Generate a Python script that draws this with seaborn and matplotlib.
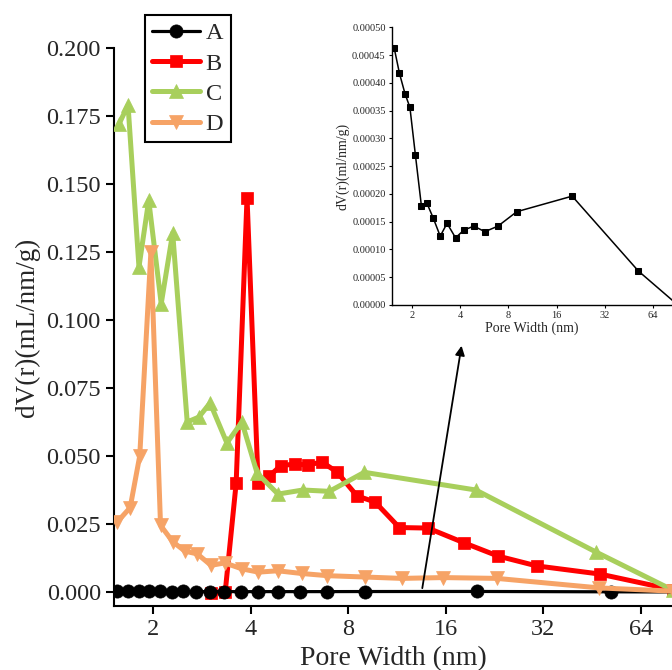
import numpy as np
import pandas as pd
import matplotlib
matplotlib.use("Agg")
import matplotlib.pyplot as plt
from matplotlib.ticker import NullLocator, FixedLocator, FixedFormatter, FormatStrFormatter
import seaborn as sns

# ---------------- data ----------------
a_x = [1.55, 1.67, 1.81, 1.94, 2.10, 2.29, 2.48, 2.71, 3.00, 3.31, 3.74, 4.22, 4.87, 5.70, 6.88, 9.02, 20.0, 51.8, 88.0]
a_y = [0.000462, 0.000417, 0.000380, 0.000356, 0.000270, 0.000178, 0.000183, 0.000157, 0.000124,
       0.000147, 0.000121, 0.000135, 0.000142, 0.000132, 0.000142, 0.000168, 0.000196, 0.0000612, 0.000004]

b_x = [3.02, 3.34, 3.61, 3.90, 4.22, 4.56, 4.96, 5.48, 6.02, 6.64, 7.39, 8.52, 9.68, 11.5, 14.1, 18.2, 23.2, 30.5, 47.8, 80.5]
b_y = [-0.0005, 0.0, 0.040, 0.145, 0.040, 0.0425, 0.0465, 0.047, 0.0467, 0.0478, 0.0441, 0.0353,
       0.0331, 0.0237, 0.0235, 0.0181, 0.0132, 0.0096, 0.0066, 0.0008]

c_x = [1.57, 1.675, 1.81, 1.94, 2.12, 2.30, 2.55, 2.77, 3.00, 3.38, 3.76, 4.19, 4.86, 5.80, 7.00, 8.97, 19.8, 46.5, 80.5]
c_y = [0.172, 0.179, 0.1195, 0.144, 0.106, 0.132, 0.0625, 0.0643, 0.0695, 0.0548, 0.0625, 0.0437,
       0.036, 0.0375, 0.037, 0.044, 0.0375, 0.0147, 0.0006]

d_x = [1.55, 1.70, 1.82, 1.97, 2.11, 2.30, 2.51, 2.74, 3.02, 3.33, 3.76, 4.23, 4.85, 5.75, 6.90, 9.02,
       11.7, 15.7, 23.0, 47.6, 80.5]
d_y = [0.0257, 0.031, 0.050, 0.125, 0.0245, 0.0185, 0.015, 0.014, 0.0098, 0.0107, 0.0085, 0.0073,
       0.0078, 0.0068, 0.0060, 0.0055, 0.0050, 0.0053, 0.0050, 0.0015, 0.0003]

series_names = ["A", "B", "C", "D"]
x_ticks = [2, 4, 8, 16, 32, 64]
main_yticks = [0.0, 0.025, 0.050, 0.075, 0.100, 0.125, 0.150, 0.175, 0.200]
inset_yticks = [0.0, 0.00005, 0.0001, 0.00015, 0.0002, 0.00025, 0.0003, 0.00035, 0.0004, 0.00045, 0.0005]

# ---------------- style ----------------
sns.set_theme(style="ticks")
plt.rcParams["font.family"] = ["Liberation Serif", "DejaVu Serif"]
plt.rcParams["axes.linewidth"] = 1.5

fig = plt.figure(figsize=(6.72, 6.70), dpi=100)
ax = fig.add_axes([114 / 672, 1 - 606 / 670, 558 / 672, 558 / 670])

styles = {
    "A": dict(color="black", marker="o", ms=9.5, lw=2.3, z=3.5),
    "B": dict(color="#FF0000", marker="s", ms=8.5, lw=3.6, z=2),
    "C": dict(color="#A8CF5C", marker="^", ms=10.5, lw=3.6, z=3),
    "D": dict(color="#F6A366", marker="v", ms=10.5, lw=3.6, z=4),
}
data = {"A": (a_x, a_y), "B": (b_x, b_y), "C": (c_x, c_y), "D": (d_x, d_y)}

handles = []
for name in series_names:
    xs, ys = data[name]
    st = styles[name]
    df = pd.DataFrame({"x": xs, "y": ys})
    sns.lineplot(data=df, x="x", y="y", ax=ax, color=st["color"], marker=st["marker"],
                 markersize=st["ms"], linewidth=st["lw"], markeredgecolor=st["color"],
                 markeredgewidth=0.5, sort=False, estimator=None, zorder=st["z"], legend=False)
    ln = ax.lines[-1]
    ln.set_label(name)
    handles.append(ln)

ax.set_xscale("log", base=2)
ax.set_xlim(1.516, 79.8)
ax.set_ylim(-0.00515, 0.200)
ax.xaxis.set_major_locator(FixedLocator(x_ticks))
ax.xaxis.set_major_formatter(FixedFormatter([str(t) for t in x_ticks]))
ax.xaxis.set_minor_locator(NullLocator())
ax.set_yticks(main_yticks)
ax.yaxis.set_major_formatter(FormatStrFormatter("%.3f"))
ax.tick_params(axis="both", labelsize=17.5, length=6, width=1.5, direction="out", color="black")
ax.set_xlabel("Pore Width (nm)", fontsize=20, labelpad=4)
ax.set_ylabel("dV(r)(mL/nm/g)", fontsize=19.5, labelpad=4)
for s in ["top", "right"]:
    ax.spines[s].set_visible(False)
for s in ["left", "bottom"]:
    ax.spines[s].set_color("black")
    ax.spines[s].set_linewidth(1.5)

leg = ax.legend(handles=handles, labels=series_names, loc="upper left",
                bbox_to_anchor=(145 / 672, 1 - 15 / 670), bbox_transform=fig.transFigure,
                fontsize=17.5, frameon=True, fancybox=False, framealpha=1, edgecolor="black",
                borderpad=0.3, labelspacing=0.34, handlelength=1.95, handletextpad=0.25,
                borderaxespad=0)
leg.get_frame().set_linewidth(1.5)
leg.set_zorder(20)

# arrow
ax.annotate("", xy=(462 / 672, 1 - 343 / 670), xycoords="figure fraction",
            xytext=(13.5, 0.0004), textcoords="data",
            arrowprops=dict(arrowstyle="-|>", color="black", lw=1.3, mutation_scale=14),
            zorder=10)

# ---------------- inset ----------------
ins = fig.add_axes([392 / 672, 1 - 305 / 670, 280 / 672, (305 - 27.3) / 670])
dfa = pd.DataFrame({"x": a_x, "y": a_y})
sns.lineplot(data=dfa, x="x", y="y", ax=ins, color="black", marker="s", markersize=4.2,
             linewidth=1.1, markeredgecolor="black", sort=False, estimator=None, legend=False)
ins.set_xscale("log", base=2)
ins.set_xlim(1.50, 84)
ins.set_ylim(0, 0.0005)
ins.xaxis.set_major_locator(FixedLocator(x_ticks))
ins.xaxis.set_major_formatter(FixedFormatter([str(t) for t in x_ticks]))
ins.xaxis.set_minor_locator(NullLocator())
ins.set_yticks(inset_yticks)
ins.yaxis.set_major_formatter(FormatStrFormatter("%.5f"))
ins.tick_params(axis="both", labelsize=7.5, length=2.5, width=0.8, direction="out", pad=2, color="black")
ins.set_xlabel("Pore Width (nm)", fontsize=10, labelpad=1)
ins.set_ylabel("dV(r)(ml/nm/g)", fontsize=10, labelpad=2)
for s in ["top", "right"]:
    ins.spines[s].set_visible(False)
for s in ["left", "bottom"]:
    ins.spines[s].set_color("black")
    ins.spines[s].set_linewidth(1.0)

fig.savefig("out.png", dpi=100)
